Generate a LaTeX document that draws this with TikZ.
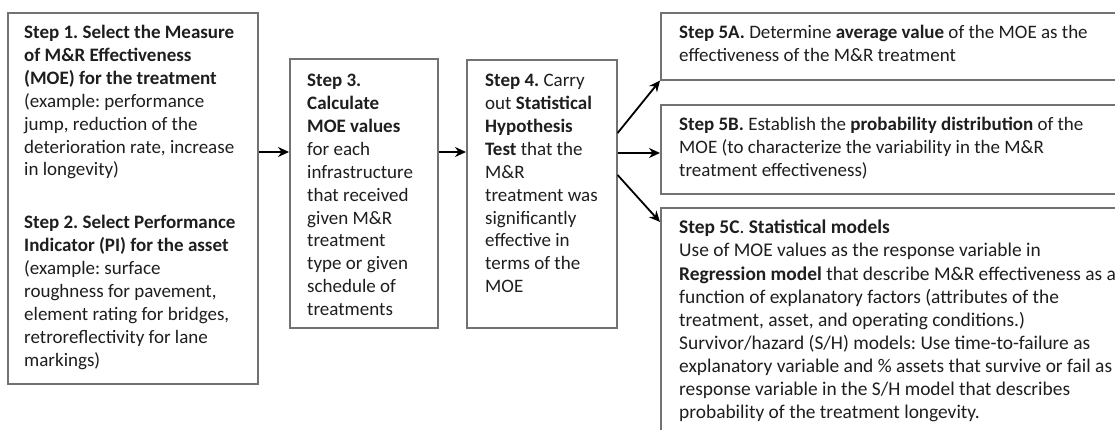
\documentclass[tikz,border=0pt]{standalone}
\usepackage{fontspec}
\setmainfont{Carlito}
\frenchspacing
\usetikzlibrary{arrows.meta}
\definecolor{txt}{HTML}{1E1E1E}
\definecolor{edge}{HTML}{727272}
\tikzset{
  box/.style={draw=edge, line width=1.6pt, fill=white, rectangle, inner sep=0pt, anchor=north west},
  txtnode/.style={anchor=north west, align=left, inner sep=0pt, text=txt,
    font=\fontsize{19}{22.9}\selectfont},
  bigtxt/.style={txtnode, font=\fontsize{19.4}{23.1}\selectfont},
  arr/.style={draw=black, line width=1.8pt, -{Stealth[length=11pt,width=10pt]}}
}
\begin{document}
\begin{tikzpicture}[x=1pt,y=-1pt]
\useasboundingbox (0,0) rectangle (1115,430);
\clip (0,0) rectangle (1115,430);
\fill[white] (0,0) rectangle (1115,430);
% boxes
\node[box, minimum width=250pt, minimum height=371pt] (b1) at (7,12) {};
\node[box, minimum width=148pt, minimum height=269pt] (b3) at (289,58) {};
\node[box, minimum width=150pt, minimum height=268pt] (b4) at (466,59) {};
\node[box, minimum width=470pt, minimum height=67pt] (b5a) at (660,12) {};
\node[box, minimum width=470pt, minimum height=89pt] (b5b) at (660,104) {};
\node[box, minimum width=470pt, minimum height=240pt] (b5c) at (660,207) {};
% texts
\node[txtnode] (t1) at (24,25) {\textbf{Step 1. Select the Measure}\\
\textbf{of M\&R Effectiveness}\\
\textbf{(MOE) for the treatment}\\
(example: performance\\
jump, reduction of the\\
deterioration rate, increase\\
in longevity)\\[30pt]
\textbf{Step 2. Select Performance}\\
\textbf{Indicator (PI) for the asset}\\
(example: surface\\
roughness for pavement,\\
element rating for bridges,\\
retroreflectivity for lane\\
markings)};
\node[txtnode] (t3) at (307,74) {\textbf{Step 3.}\\
\textbf{Calculate}\\
\textbf{MOE values}\\
for each\\
infrastructure\\
that received\\
given M\&R\\
treatment\\
type or given\\
schedule of\\
treatments};
\node[txtnode] (t4) at (485,74) {\textbf{Step 4.} Carry\\
out \textbf{Statistical}\\
\textbf{Hypothesis}\\
\textbf{Test} that the\\
M\&R\\
treatment was\\
significantly\\
effective in\\
terms of the\\
MOE};
\node[txtnode] (t5a) at (679,25) {\textbf{Step 5A.} Determine \textbf{average value} of the MOE as the\\
effectiveness of the M\&R treatment};
\node[txtnode] (t5b) at (679,117) {\textbf{Step 5B.} Establish the \textbf{probability distribution} of the\\
MOE (to characterize the variability in the M\&R\\
treatment effectiveness)};
\node[bigtxt] (t5c) at (679,220) {\textbf{Step 5C}. \textbf{Statistical models}\\
Use of MOE values as the response variable in\\
\textbf{Regression model} that describe M\&R effectiveness as a\\
function of explanatory factors (attributes of the\\
treatment, asset, and operating conditions.)\\
Survivor/hazard (S/H) models: Use time-to-failure as\\
explanatory variable and \% assets that survive or fail as\\
response variable in the S/H model that describes\\
probability of the treatment longevity.};
% connectors
\coordinate (ya) at (0,152);
\coordinate (yb) at (0,133);
\coordinate (yc) at (0,153);
\coordinate (yd) at (0,175);
\coordinate (ye) at (0,222);
\draw[arr] (b1.east |- ya) -- (b3.west |- ya);
\draw[arr] (b3.east |- ya) -- (b4.west |- ya);
\draw[arr] (b4.east |- yb) -- (b5a.south west);
\draw[arr] (b4.east |- yc) -- (b5b.west |- yc);
\draw[arr] (b4.east |- yd) -- (b5c.west |- ye);
\end{tikzpicture}
\end{document}
